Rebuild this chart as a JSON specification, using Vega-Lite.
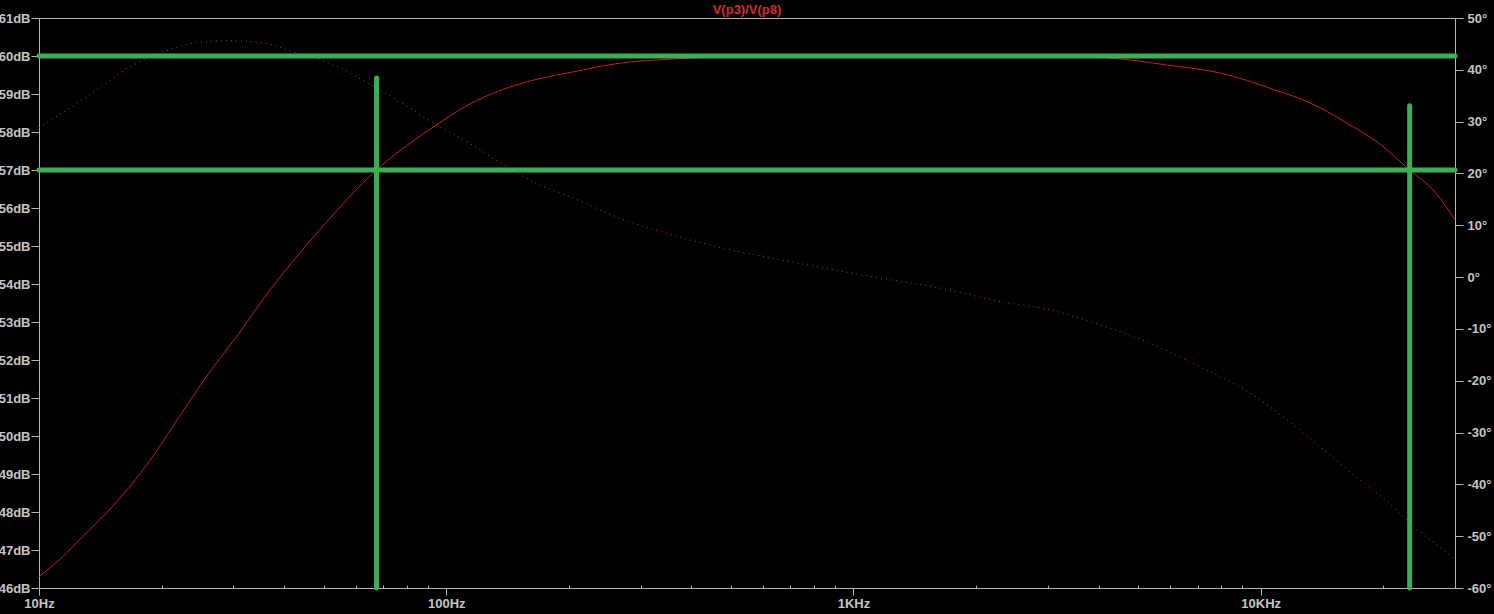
{
  "$schema": "https://vega.github.io/schema/vega-lite/v6.json",
  "autosize": {"type": "none"},
  "padding": {"left": 39, "top": 18, "right": 39, "bottom": 26},
  "width": 1416,
  "height": 570,
  "background": "#000000",
  "view": {"stroke": "#b4b4b4", "strokeWidth": 1, "fill": "#000000"},
  "title": {"text": "V(p3)/V(p8)", "color": "#d42a2a", "fontSize": 13, "fontWeight": "bold", "font": "Liberation Sans", "anchor": "middle", "baseline": "bottom", "offset": -18},
  "config": {
    "axis": {"labelFont": "Liberation Sans", "labelFontSize": 13, "labelFontWeight": "bold", "labelColor": "#c4c4c4", "tickColor": "#b4b4b4", "domain": false, "grid": false, "title": null}
  },
  "datasets": {
    "mag": [
      {"f": 10, "db": 46.30}, {"f": 11.42, "db": 46.82}, {"f": 12.79, "db": 47.35}, {"f": 14.65, "db": 47.98},
      {"f": 16.69, "db": 48.66}, {"f": 18.99, "db": 49.45}, {"f": 21.27, "db": 50.24}, {"f": 23.82, "db": 51.03},
      {"f": 27.29, "db": 51.93}, {"f": 30.55, "db": 52.61}, {"f": 35.39, "db": 53.58}, {"f": 48.85, "db": 55.42},
      {"f": 67.44, "db": 57.00}, {"f": 94.7, "db": 58.19}, {"f": 110.9, "db": 58.66}, {"f": 148.8, "db": 59.24},
      {"f": 204.3, "db": 59.58}, {"f": 271, "db": 59.82}, {"f": 359.5, "db": 59.92}, {"f": 450, "db": 59.97},
      {"f": 600, "db": 60.0}, {"f": 1000, "db": 60.0}, {"f": 2000, "db": 60.0}, {"f": 3000, "db": 59.99},
      {"f": 4184, "db": 59.95}, {"f": 5907, "db": 59.76}, {"f": 7970, "db": 59.55}, {"f": 10819, "db": 59.11},
      {"f": 13264, "db": 58.76}, {"f": 16534, "db": 58.19}, {"f": 19478, "db": 57.71}, {"f": 23215, "db": 57.0},
      {"f": 26887, "db": 56.40}, {"f": 30000, "db": 55.69}
    ],
    "phase": [
      {"f": 10, "deg": 28.8}, {"f": 11.42, "deg": 31.7}, {"f": 13.84, "deg": 36.1}, {"f": 16.69, "deg": 40.5},
      {"f": 20.10, "deg": 43.4}, {"f": 24.37, "deg": 45.2}, {"f": 29.37, "deg": 45.6}, {"f": 35.39, "deg": 45.2},
      {"f": 42.89, "deg": 43.25}, {"f": 51.69, "deg": 41.3}, {"f": 62.32, "deg": 38.0}, {"f": 67.44, "deg": 36.5},
      {"f": 75.5, "deg": 34.2}, {"f": 94.7, "deg": 29.4}, {"f": 116, "deg": 25.5}, {"f": 140.6, "deg": 21.3},
      {"f": 169.5, "deg": 17.8}, {"f": 204.3, "deg": 15.3}, {"f": 261.9, "deg": 11.6}, {"f": 359.5, "deg": 8.1},
      {"f": 525, "deg": 4.9}, {"f": 767, "deg": 2.4}, {"f": 1114, "deg": 0.05}, {"f": 1627, "deg": -2.1},
      {"f": 2323, "deg": -4.8}, {"f": 3031, "deg": -6.3}, {"f": 4022, "deg": -9.2}, {"f": 5335, "deg": -12.7},
      {"f": 7078, "deg": -17.3}, {"f": 9393, "deg": -22.3}, {"f": 12462, "deg": -29.5}, {"f": 16534, "deg": -37.5},
      {"f": 21930, "deg": -45.5}, {"f": 23215, "deg": -47.4}, {"f": 29600, "deg": -54.1}, {"f": 30000, "deg": -54.5}
    ],
    "cursors": [
      {"f": 10, "f2": 30000, "v": 60, "v2": 60},
      {"f": 10, "f2": 30000, "v": 57, "v2": 57},
      {"f": 67.44, "f2": 67.44, "v": 46, "v2": 59.42},
      {"f": 23215, "f2": 23215, "v": 46, "v2": 58.69}
    ]
  },
  "encoding": {
    "x": {
      "field": "f", "type": "quantitative",
      "scale": {"type": "log", "domain": [10, 30000], "nice": false},
      "axis": {
        "values": [10, 20, 30, 40, 50, 60, 70, 80, 90, 100, 200, 300, 400, 500, 600, 700, 800, 900, 1000, 2000, 3000, 4000, 5000, 6000, 7000, 8000, 9000, 10000, 20000, 30000],
        "labelExpr": "datum.value == 10 ? '10Hz' : datum.value == 100 ? '100Hz' : datum.value == 1000 ? '1KHz' : datum.value == 10000 ? '10KHz' : ''",
        "tickSize": {"condition": {"test": "datum.value == 10 || datum.value == 100 || datum.value == 1000 || datum.value == 10000", "value": 7}, "value": -3},
        "labelPadding": 2,
        "labelFlush": false,
        "labelOverlap": false
      }
    }
  },
  "layer": [
    {
      "data": {"name": "mag"},
      "mark": {"type": "line", "color": "#c42020", "strokeWidth": 1, "interpolate": "monotone"},
      "encoding": {
        "y": {"field": "db", "type": "quantitative", "scale": {"domain": [46, 61], "nice": false, "zero": false},
          "axis": {"orient": "left", "values": [46,47,48,49,50,51,52,53,54,55,56,57,58,59,60,61], "labelExpr": "datum.value + 'dB'", "tickSize": 8, "labelPadding": 1}}
      }
    },
    {
      "data": {"name": "phase"},
      "mark": {"type": "line", "color": "#d03030", "strokeWidth": 1, "strokeDash": [1, 4], "interpolate": "monotone"},
      "encoding": {
        "y": {"field": "deg", "type": "quantitative", "scale": {"domain": [-60, 50], "nice": false, "zero": false},
          "axis": {"orient": "right", "values": [-60,-50,-40,-30,-20,-10,0,10,20,30,40,50], "labelExpr": "datum.value + '°'", "tickSize": 8, "labelPadding": 4}}
      }
    },
    {
      "data": {"name": "cursors"},
      "mark": {"type": "rule", "color": "#3cae55", "strokeWidth": 5, "strokeCap": "round"},
      "encoding": {
        "x2": {"field": "f2"},
        "y": {"field": "v", "type": "quantitative", "scale": {"domain": [46, 61], "nice": false, "zero": false}, "axis": null},
        "y2": {"field": "v2"}
      }
    }
  ],
  "resolve": {"scale": {"y": "independent"}, "axis": {"y": "independent"}}
}
